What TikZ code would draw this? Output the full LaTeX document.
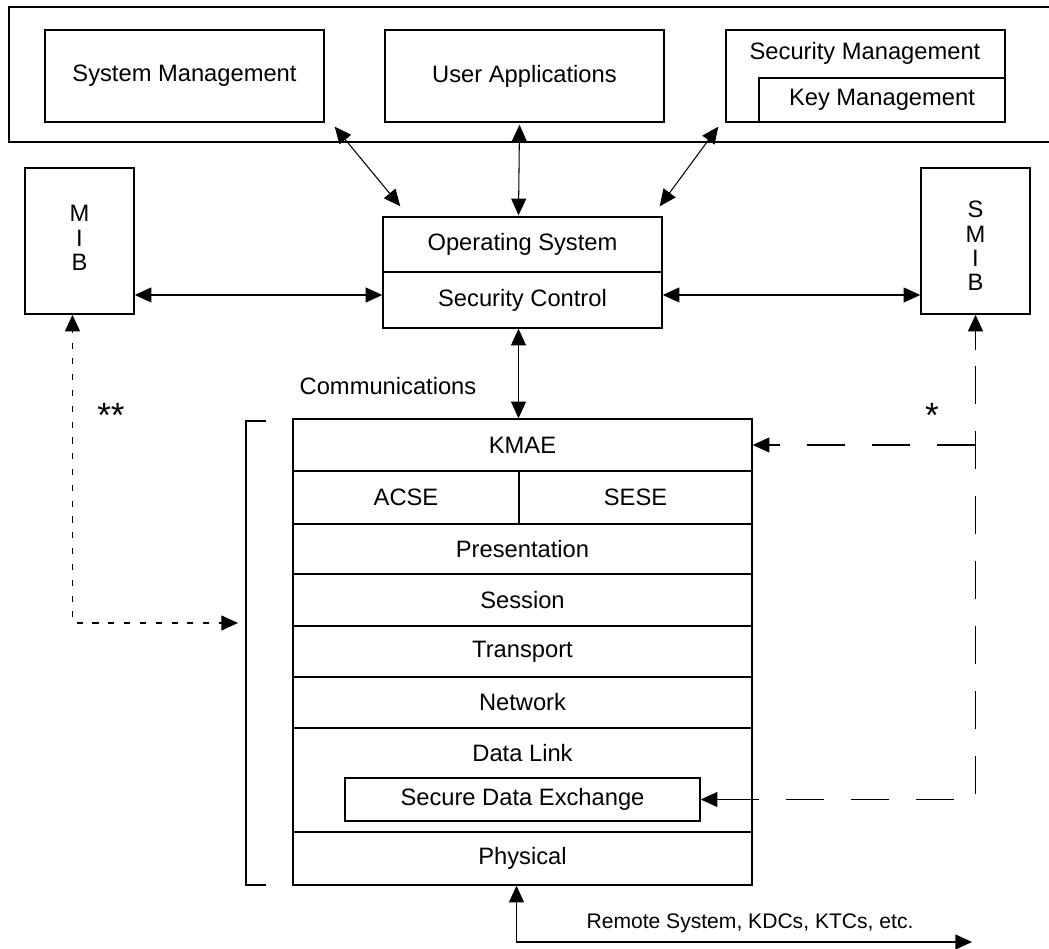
\documentclass[tikz,border=0pt]{standalone}
\usepackage{fontspec}
\setmainfont{Liberation Sans}
\usetikzlibrary{arrows.meta,fit,calc}
\tikzset{
  box/.style={draw, line width=0.8pt, inner sep=0pt},
  lbl/.style={font=\fontsize{13.5pt}{16pt}\selectfont, inner sep=0pt},
  vlbl/.style={font=\fontsize{13.5pt}{13.8pt}\selectfont, align=center, inner sep=0pt},
  conn/.style={line width=0.8pt, {Triangle[length=9.5pt,width=8.5pt]}-{Triangle[length=9.5pt,width=8.5pt]}},
  thinconn/.style={line width=0.6pt, {Triangle[length=9.5pt,width=8.5pt]}-{Triangle[length=9.5pt,width=8.5pt]}},
  dashconn/.style={line width=0.8pt, dash pattern=on 22pt off 15pt},
  dotconn/.style={line width=0.8pt, dash pattern=on 3.5pt off 5.5pt},
  tip/.style={-{Triangle[length=9.5pt,width=8.5pt]}}
}
\begin{document}
\begin{tikzpicture}[x=0.02cm,y=-0.02cm]
\useasboundingbox (0,0) rectangle (1049,949);
% top frame, open to the right
\draw[line width=0.8pt] (1049,7) -- (9,7) -- (9,142) -- (1049,142);
% top boxes
\node[box, fit={(45,30) (324,122)}, label={[lbl]center:System Management}] (sysm) {};
\node[box, fit={(385,30) (664,122)}, label={[lbl]center:User Applications}] (usera) {};
\node[box, fit={(726,30) (1005,122)}] (secm) {};
\node[lbl] (secmt) at (865,53) {Security Management};
\node[box, fit={(759,78) (1005,122)}, label={[lbl]center:Key Management}] (keym) {};
% side boxes
\node[box, fit={(25,168) (134,314)}] (mib) {};
\node[vlbl] (mibt) at (79.5,238) {M\\I\\B};
\node[box, fit={(921,168) (1030,314)}] (smib) {};
\node[vlbl] (smibt) at (975.5,246) {S\\M\\I\\B};
% operating system
\node[box, fit={(383,217) (662,272)}, label={[lbl]center:Operating System}] (os) {};
\node[box, fit={(383,272) (662,328)}, label={[lbl]center:Security Control}] (sc) {};
% communications stack
\node[box, fit={(293,419) (752,471)}, label={[lbl]center:KMAE}] (kmae) {};
\node[box, fit={(293,471) (519,524)}, label={[lbl]center:ACSE}] (acse) {};
\node[box, fit={(519,471) (752,524)}, label={[lbl]center:SESE}] (sese) {};
\node[box, fit={(293,524) (752,574)}, label={[lbl]center:Presentation}] (pres) {};
\node[box, fit={(293,574) (752,626)}, label={[lbl]center:Session}] (sess) {};
\node[box, fit={(293,626) (752,677)}, label={[lbl]center:Transport}] (trans) {};
\node[box, fit={(293,677) (752,728)}, label={[lbl]center:Network}] (net) {};
\node[box, fit={(293,728) (752,832)}] (dl) {};
\node[lbl] (dlt) at (522.5,753) {Data Link};
\node[box, fit={(345,778) (700,821)}, label={[lbl]center:Secure Data Exchange}] (sde) {};
\node[box, fit={(293,832) (752,885)}, label={[lbl]center:Physical}] (phys) {};
% bracket
\draw[line width=0.8pt] (266,421) -- (246,421) -- (246,885) -- (266,885);
\coordinate (brk) at (246,623);
% labels
\node[lbl] (comm) at (388,386) {Communications};
\node[lbl, font=\fontsize{20pt}{21pt}\selectfont] (dstar) at (111,415) {**};
\node[lbl, font=\fontsize{20pt}{21pt}\selectfont] (sstar) at (932,415) {*};
\node[font=\fontsize{12pt}{14pt}\selectfont, inner sep=0pt] (remt) at (750,923) {Remote System, KDCs, KTCs, etc.};
% connectors top
\draw[thinconn] ($(sysm.south east)+(10,4)$) -- ($(os.north west)+(18,-10)$);
\draw[thinconn] ($(usera.south)+(-5,2)$) -- ($(os.north)+(-4,-1)$);
\draw[thinconn] ($(secm.south west)+(-7,4)$) -- ($(os.north east)+(-3,-10)$);
% side connectors
\draw[conn] (mib.east |- 0,295) -- (sc.west |- 0,295);
\draw[conn] (sc.east |- 0,295) -- (smib.west |- 0,295);
% os to stack
\draw[thinconn] ($(sc.south)+(-4,0)$) -- ($(kmae.north)+(-4,0)$);
% dotted MIB link
\draw[dotconn] ($(mib.south)+(-7,12)$) |- ($(brk)+(-22,0)$);
\draw[tip, line width=0.8pt] ($(mib.south)+(-7,14)$) -- ($(mib.south)+(-7,0)$);
\draw[tip, line width=0.8pt] ($(brk)+(-24,0)$) -- ($(brk)+(-8,0)$);
% dashed SMIB link
\coordinate (dc) at (smib.south |- sde.east);
\coordinate (dk) at (smib.south |- kmae.east);
\draw[dashconn] ($(sde.east)+(20,0)$) -- (dc) -- ($(smib.south)+(0,18)$);
\draw[dashconn] (dk) -- ($(kmae.east)+(20,0)$);
\draw[tip, line width=0.8pt] ($(sde.east)+(20,0)$) -- (sde.east);
\draw[tip, line width=0.8pt] ($(kmae.east)+(20,0)$) -- (kmae.east);
\draw[tip, line width=0.8pt] ($(smib.south)+(0,35)$) -- (smib.south);
% physical to remote
\coordinate (rem) at (972,942);
\draw[conn] ($(phys.south)+(-6,0)$) |- (rem);
\end{tikzpicture}
\end{document}
